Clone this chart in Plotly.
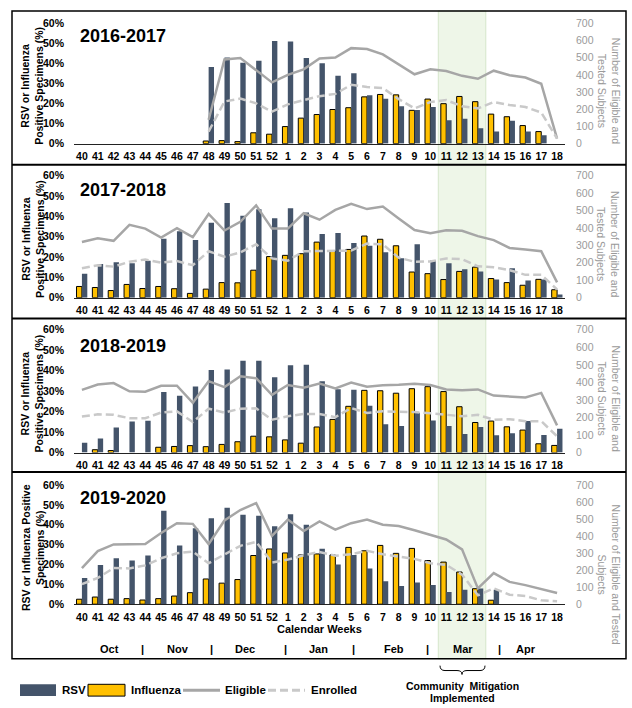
import plotly.graph_objects as go

W, H = 632, 708
def px(x): return x / W
def py(y): return 1 - y / H

weeks = [str(w) for w in list(range(40, 53)) + list(range(1, 19))]
seasons = ["2016-2017", "2017-2018", "2018-2019", "2019-2020"]

N = None
flu_1617 = [N, N, N, N, N, N, N, N, 1.3, 1.5, 1.0, 5.4, 4.7,
            8.5, 12.7, 14.5, 17.0, 17.9, 23.3, 24.5, 24.3, 16.6, 22.2, 19.9, 23.5, 20.9, 14.7, 13.4, 9.0, 6.0, N]
rsv_1617 = [N, N, N, N, N, N, N, N, 38.2, 42.9, 40.3, 41.3, 51.1,
            50.9, 42.7, 40.0, 33.8, 35.1, 24.1, 22.3, 18.6, 16.8, 18.3, 11.7, 12.4, 7.7, 6.0, 11.4, 6.0, 4.2, N]
elig_1617 = [N, N, N, N, N, N, N, N, 139, 489, 498, 428, 356,
             400, 432, 495, 500, 555, 550, 519, 460, 403, 432, 422, 394, 377, 424, 398, 384, 348, 29]
enr_1617 = [N, N, N, N, N, N, N, N, 70, 245, 262, 234, 186,
            228, 253, 276, 289, 342, 329, 323, 259, 205, 242, 253, 217, 205, 242, 224, 213, 181, 29]

flu_1718 = [5.5, 5.0, 3.5, 6.5, 4.5, 5.5, 4.4, 2.1, 4.2, 7.4, 7.3, 13.5, 20.2,
            20.8, 21.6, 27.3, 22.9, 23.7, 30.3, 28.7, 25.5, 12.6, 11.8, 8.9, 12.9, 15.0, 9.4, 7.4, 6.1, 9.0, 3.9]
rsv_1718 = [11.8, 16.5, 17.4, 16.9, 18.2, 29.0, 32.6, 28.4, 36.8, 46.5, 40.3, 43.5, 39.0,
            44.0, 41.8, 31.3, 31.8, 26.9, 25.5, 22.3, 19.4, 26.3, 18.4, 16.9, 14.0, 12.9, 8.9, 14.5, 8.4, 8.9, 1.6]
elig_1718 = [319, 341, 326, 418, 396, 345, 398, 347, 480, 385, 435, 529, 396,
             396, 484, 447, 503, 538, 508, 523, 454, 388, 370, 386, 383, 353, 330, 285, 276, 266, 88]
enr_1718 = [169, 186, 178, 206, 219, 201, 210, 186, 266, 235, 259, 306, 225,
            212, 266, 266, 268, 270, 310, 306, 229, 206, 208, 225, 221, 180, 174, 158, 131, 131, 47]

flu_1819 = [N, 1.4, 1.0, N, N, 2.6, 3.0, 3.4, 2.9, 4.0, 5.3, 8.0, 7.7,
            6.2, 4.6, 12.5, 16.2, 22.6, 30.4, 30.2, 29.0, 31.2, 32.2, 29.8, 22.4, 14.7, 15.4, 12.6, 11.0, 4.3, 3.5]
rsv_1819 = [4.8, 6.9, 12.2, 15.2, 15.5, 29.6, 27.8, 32.3, 40.3, 40.6, 44.8, 44.8, 36.8,
            42.6, 42.9, 34.9, 30.9, 30.7, 22.9, 13.8, 13.0, 19.4, 15.7, 13.0, 9.1, 12.5, 8.5, 9.4, 15.4, 8.6, 11.7]
elig_1819 = [357, 388, 396, 349, 347, 381, 381, 284, 407, 373, 435, 424, 329,
             385, 370, 394, 366, 399, 375, 383, 386, 392, 385, 360, 355, 360, 325, 321, 314, 340, 155]
enr_1819 = [205, 218, 215, 196, 196, 228, 235, 174, 250, 228, 250, 252, 187,
            207, 220, 220, 202, 254, 226, 235, 233, 231, 224, 217, 207, 215, 187, 190, 179, 179, 93]

flu_1920 = [2.5, 3.6, 2.5, 2.8, 2.1, 2.8, 4.1, 5.8, 12.7, 10.6, 12.4, 24.5, 27.8,
            25.8, 24.8, 25.3, 24.8, 28.6, 26.9, 29.6, 25.6, 28.1, 22.0, 21.2, 16.2, 7.8, 2.0, N, N, N, N]
rsv_1920 = [13.2, 19.7, 23.1, 22.0, 24.5, 47.1, 29.6, 38.2, 43.3, 48.6, 45.0, 44.5, 39.3,
            45.3, 40.0, 27.9, 20.0, 24.8, 18.0, 11.6, 9.1, 10.9, 9.6, 6.1, 7.3, 7.9, 7.3, N, N, N, N]
elig_1920 = [212, 312, 351, 353, 353, 418, 476, 472, 353, 492, 553, 594, 401,
             497, 430, 486, 438, 476, 497, 467, 459, 434, 409, 380, 322, 93, 183, 131, 112, 87, 66]
enr_1920 = [118, 154, 212, 210, 228, 270, 299, 309, 241, 293, 343, 366, 245,
            262, 287, 307, 285, 293, 314, 293, 280, 266, 241, 231, 174, 52, 93, 56, 48, 23, 17]

pct_ticks = [0, 10, 20, 30, 40, 50, 60]
pct_labels = ["0%", "10%", "20%", "30%", "40%", "50%", "60%"]
months = ["Oct", "|", "Nov", "|", "Dec", "|", "Jan", "|", "Feb", "|", "Mar", "|", "Apr"]
month_x = [109, 142, 178, 211, 245, 285, 318, 353, 394, 427, 463, 499, 526]

RSV_C = "#44546a"
FLU_C = "#ffc000"
ELIG_C = "#a6a6a6"
ENR_C = "#c9c9c9"
FONT = "Liberation Sans, Arial, sans-serif"

data = [
    (flu_1617, rsv_1617, elig_1617, enr_1617),
    (flu_1718, rsv_1718, elig_1718, enr_1718),
    (flu_1819, rsv_1819, elig_1819, enr_1819),
    (flu_1920, rsv_1920, elig_1920, enr_1920),
]
# (zero-line pixel, top pixel) for each panel
panels = [(140, 17.5), (296.7, 172.5), (454.3, 329.3), (608.5, 487.3)]
title_y = [31, 187, 346, 500]

fig = go.Figure()
layout = {}
annotations = []
for i, (flu, rsv, elig, enr) in enumerate(data):
    n = i + 1
    xa = "x" if n == 1 else f"x{n}"
    yl = "y" if n == 1 else f"y{2*n-1}"
    yr = f"y{2*n}"
    fig.add_trace(go.Bar(x=weeks, y=flu, xaxis=xa, yaxis=yl, name="Influenza",
                         marker=dict(color=FLU_C, line=dict(color="#000000", width=1)),
                         showlegend=False))
    fig.add_trace(go.Bar(x=weeks, y=rsv, xaxis=xa, yaxis=yl, name="RSV",
                         marker=dict(color=RSV_C, line=dict(width=0)), showlegend=False))
    fig.add_trace(go.Scatter(x=weeks, y=elig, xaxis=xa, yaxis=yr, mode="lines", name="Eligible",
                             line=dict(color=ELIG_C, width=2.5), showlegend=False))
    fig.add_trace(go.Scatter(x=weeks, y=enr, xaxis=xa, yaxis=yr, mode="lines", name="Enrolled",
                             line=dict(color=ENR_C, width=2.5, dash="8px,4px"), showlegend=False))
    bot, top = panels[i]
    dom = [py(bot), py(top)]
    xkey = "xaxis" if n == 1 else f"xaxis{n}"
    ylkey = "yaxis" if n == 1 else f"yaxis{2*n-1}"
    yrkey = f"yaxis{2*n}"
    layout[xkey] = dict(domain=[px(74), px(565)], anchor=yl, type="category",
                        categoryorder="array", categoryarray=weeks, range=[-0.5, 30.5],
                        showline=True, linecolor="#222222", linewidth=1, ticks="",
                        tickfont=dict(size=10.5, color="#000000", family=FONT, weight="bold"),
                        showgrid=False, zeroline=False, ticklabelstandoff=3)
    layout[ylkey] = dict(domain=dom, anchor=xa, range=[0, 60], tickvals=pct_ticks,
                         ticktext=pct_labels, showgrid=False, zeroline=False, showline=False,
                         ticks="", ticklabelstandoff=9,
                         tickfont=dict(size=10.5, color="#000000", family=FONT, weight="bold"))
    layout[yrkey] = dict(domain=dom, anchor=xa, overlaying=yl, side="right", range=[0, 700],
                         dtick=100, showgrid=False, zeroline=False, showline=False, ticks="",
                         ticklabelstandoff=10,
                         tickfont=dict(size=10.5, color="#9a9a9a", family=FONT))
    annotations.append(dict(text=f"<b>{seasons[i]}</b>", x=px(78), y=py(title_y[i]),
                            xref="paper", yref="paper", xanchor="left", yanchor="middle",
                            showarrow=False, font=dict(size=18, color="#000000", family=FONT)))
    mid = (bot + top) / 2
    if n < 4:
        ltxt = "<b>RSV or Influenza<br>Positive Specimens (%)</b>"
        rtxt = "Number of Eligible and<br>Tested Subjects"
        ry = mid + 7
    else:
        ltxt = "<b>RSV or Influenza Positive<br>Specimens (%)</b>"
        rtxt = "Number of Eligible and Tested<br>Subjects"
        ry = mid + 30
    annotations.append(dict(text=ltxt, x=px(32.5), y=py(mid + 3), xref="paper", yref="paper",
                            xanchor="center", yanchor="middle", textangle=-90, showarrow=False,
                            font=dict(size=10.5, color="#000000", family=FONT)))
    annotations.append(dict(text=rtxt, x=px(608.5), y=py(ry), xref="paper", yref="paper",
                            xanchor="center", yanchor="middle", textangle=90, showarrow=False,
                            font=dict(size=10.5, color="#9a9a9a", family=FONT)))

annotations.append(dict(text="<b>Calendar Weeks</b>", x=px(319), y=py(634), xref="paper", yref="paper",
                        xanchor="center", yanchor="middle", showarrow=False,
                        font=dict(size=11, color="#000000", family=FONT)))
for m, mx in zip(months, month_x):
    annotations.append(dict(text=f"<b>{m}</b>", x=px(mx), y=py(654), xref="paper", yref="paper",
                            xanchor="center", yanchor="middle", showarrow=False,
                            font=dict(size=11, color="#000000", family=FONT)))
annotations.append(dict(text="<b>Community  Mitigation</b>", x=px(462), y=py(692), xref="paper",
                        yref="paper", xanchor="center", yanchor="middle", showarrow=False,
                        font=dict(size=10.5, color="#000000", family=FONT)))
annotations.append(dict(text="<b>Implemented</b>", x=px(462), y=py(703.5), xref="paper",
                        yref="paper", xanchor="center", yanchor="middle", showarrow=False,
                        font=dict(size=10.5, color="#000000", family=FONT)))

# legend (drawn manually)
leg_items = [("RSV", 60), ("Influenza", 129), ("Eligible", 223), ("Enrolled", 309)]
for t, lx in leg_items:
    annotations.append(dict(text=f"<b>{t}</b>", x=px(lx), y=py(696), xref="paper", yref="paper",
                            xanchor="left", yanchor="middle", showarrow=False,
                            font=dict(size=11.5, color="#000000", family=FONT)))

shapes = [
    dict(type="rect", xref="x", yref="paper", x0=22.5, x1=25.5, y0=py(664), y1=py(5),
         fillcolor="#eef6e8", line=dict(color="#d5e6cb", width=1), layer="below"),
    dict(type="rect", xref="paper", yref="paper", x0=px(12), x1=px(626), y0=py(664), y1=py(5),
         line=dict(color="#000000", width=1.5), layer="above"),
]
for sy in [161.5, 318, 474]:
    shapes.append(dict(type="line", xref="paper", yref="paper", x0=px(12), x1=px(626),
                       y0=py(sy), y1=py(sy), line=dict(color="#000000", width=2), layer="above"))

# bracket
def P(x, y): return f"{px(x)},{py(y)}"
path = (f"M {P(440, 671)} Q {P(440, 676)} {P(445, 676)} L {P(457, 676)} "
        f"Q {P(462, 676)} {P(462, 680)} Q {P(462, 676)} {P(467, 676)} "
        f"L {P(480, 676)} Q {P(485, 676)} {P(485, 671)}")
shapes.append(dict(type="path", xref="paper", yref="paper", path=path,
                   line=dict(color="#000000", width=1)))

# legend swatches
shapes.append(dict(type="rect", xref="paper", yref="paper", x0=px(20), x1=px(56), y0=py(702), y1=py(690),
                   fillcolor=RSV_C, line=dict(width=0)))
shapes.append(dict(type="rect", xref="paper", yref="paper", x0=px(88), x1=px(125), y0=py(702), y1=py(690),
                   fillcolor=FLU_C, line=dict(color="#000000", width=1)))
shapes.append(dict(type="line", xref="paper", yref="paper", x0=px(183), x1=px(220), y0=py(696), y1=py(696),
                   line=dict(color=ELIG_C, width=3)))
shapes.append(dict(type="line", xref="paper", yref="paper", x0=px(268), x1=px(305), y0=py(696), y1=py(696),
                   line=dict(color=ENR_C, width=3, dash="8px,4px")))

fig.update_layout(
    width=W, height=H, autosize=False,
    margin=dict(l=0, r=0, t=0, b=0),
    paper_bgcolor="#ffffff", plot_bgcolor="rgba(0,0,0,0)",
    barmode="group", bargap=0.32, bargroupgap=0,
    font=dict(family=FONT),
    showlegend=False,
    annotations=annotations, shapes=shapes,
    **layout,
)

fig.write_html("out.html", config={"displayModeBar": False},
               post_script="document.body.style.margin='0';document.body.style.overflow='hidden';")
